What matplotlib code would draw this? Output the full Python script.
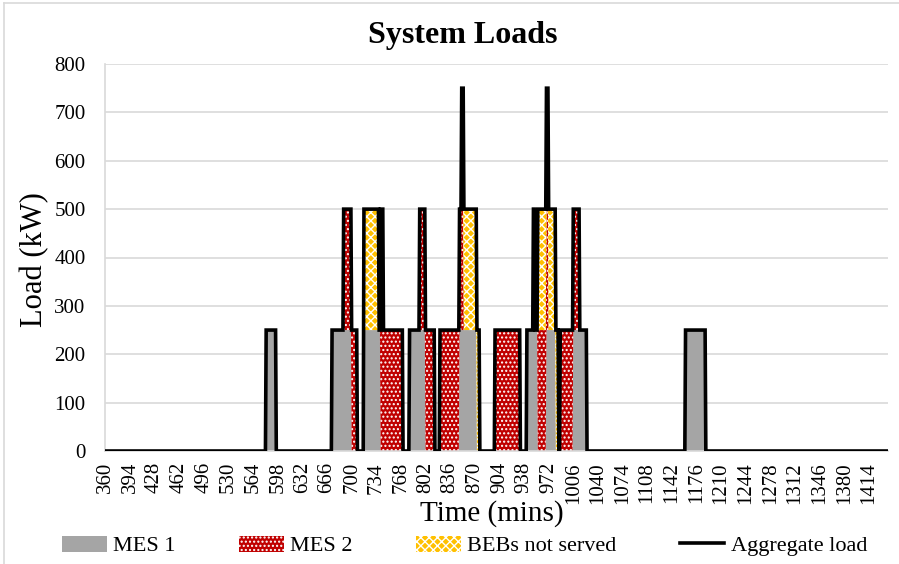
import numpy as np
import matplotlib.pyplot as plt
from matplotlib.patches import Patch
from matplotlib.lines import Line2D

plt.rcParams['font.family'] = ['Liberation Serif', 'DejaVu Serif']
plt.rcParams['hatch.linewidth'] = 1.0

# time axis (one category per minute)
t_start, t_end = 360, 1440
tick_step = 34

# on-periods: (start min, end min, load kW)
mes1_periods = [(582, 596, 250), (673, 700, 250), (717, 740, 250), (780, 802, 250),
                (849, 873, 250), (942, 957, 250), (969, 982, 250), (1006, 1025, 250),
                (1161, 1189, 250)]
mes2_periods = [(689, 708, 250), (740, 771, 250), (794, 815, 250), (822, 855, 250),
                (898, 933, 250), (957, 972, 250), (988, 1015, 250)]
bebs_periods = [(717, 738, 250), (740, 744, 250), (852, 877, 250), (951, 953, 250),
                (957, 986, 250)]

series_names = ["MES 1", "MES 2", "BEBs not served", "Aggregate load"]


def to_profile(minutes, periods):
	load = np.zeros(len(minutes))
	for start, end, kw in periods:
		load[(minutes >= start) & (minutes < end)] = kw
	return load


def main():
	minutes = np.arange(t_start, t_end + 1)
	mes1 = to_profile(minutes, mes1_periods)
	mes2 = to_profile(minutes, mes2_periods)
	bebs = to_profile(minutes, bebs_periods)
	total = mes1 + mes2 + bebs

	fig = plt.figure(figsize=(8.99, 5.64), dpi=100)
	ax = fig.add_axes([105 / 899, 1 - 451 / 564, 783 / 899, 387 / 564])

	gray, red, yellow = "#A5A5A5", "#C00000", "#FFC000"
	ax.fill_between(minutes, 0, mes1, facecolor=gray, linewidth=0, zorder=2)
	ax.fill_between(minutes, mes1, mes1 + mes2, facecolor=red, edgecolor="white",
					hatch="....", linewidth=0, zorder=2)
	ax.fill_between(minutes, mes1 + mes2, total, facecolor=yellow, edgecolor="white",
					hatch="xxxx", linewidth=0, zorder=2)
	ax.plot(minutes, total, color="black", linewidth=2.6, zorder=3,
			solid_joinstyle="miter")

	ax.set_xlim(t_start - 0.5, t_end + 0.5)
	ax.set_ylim(0, 800)
	ax.set_yticks(np.arange(0, 801, 100))
	xticks = np.arange(t_start, t_end + 1, tick_step)
	ax.set_xticks(xticks)
	ax.set_xticklabels([str(x) for x in xticks], rotation=90)
	ax.tick_params(axis="both", length=0, labelsize=15)
	ax.tick_params(axis="y", pad=14)
	ax.tick_params(axis="x", pad=8)
	ax.grid(axis="y", color="#D9D9D9", linewidth=1.2, zorder=0)
	ax.set_axisbelow(True)
	for side in ["top", "right"]:
		ax.spines[side].set_visible(False)
	for side in ["left", "bottom"]:
		ax.spines[side].set_color("#D9D9D9")
		ax.spines[side].set_linewidth(1.2)

	fig.text(0.515, 0.937, "System Loads", fontsize=23, fontweight="bold",
			 ha="center", va="center")
	fig.text(0.039, 0.54, "Load (kW)", fontsize=22, rotation=90, ha="center", va="center")
	fig.text(0.547, 0.09, "Time (mins)", fontsize=21, ha="center", va="center")

	handles = [
		Patch(facecolor=gray, linewidth=0),
		Patch(facecolor=red, edgecolor="white", hatch="....", linewidth=0),
		Patch(facecolor=yellow, edgecolor="white", hatch="xxxx", linewidth=0),
		Line2D([0], [0], color="black", linewidth=2.6),
	]
	fig.legend(handles, series_names, loc="center", bbox_to_anchor=(0.517, 0.032),
			   ncol=4, frameon=False, fontsize=16, handlelength=2.0,
			   handleheight=0.75, handletextpad=0.3, columnspacing=2.85, borderpad=0)

	# chart area border (top and left visible)
	fig.add_artist(Line2D([4 / 899, 4 / 899], [0, 1 - 3 / 564], color="#D9D9D9",
						  linewidth=1.2, transform=fig.transFigure))
	fig.add_artist(Line2D([4 / 899, 1], [1 - 3 / 564, 1 - 3 / 564], color="#D9D9D9",
						  linewidth=1.2, transform=fig.transFigure))

	fig.savefig("out.png", dpi=100)


if __name__ == "__main__":
	main()
